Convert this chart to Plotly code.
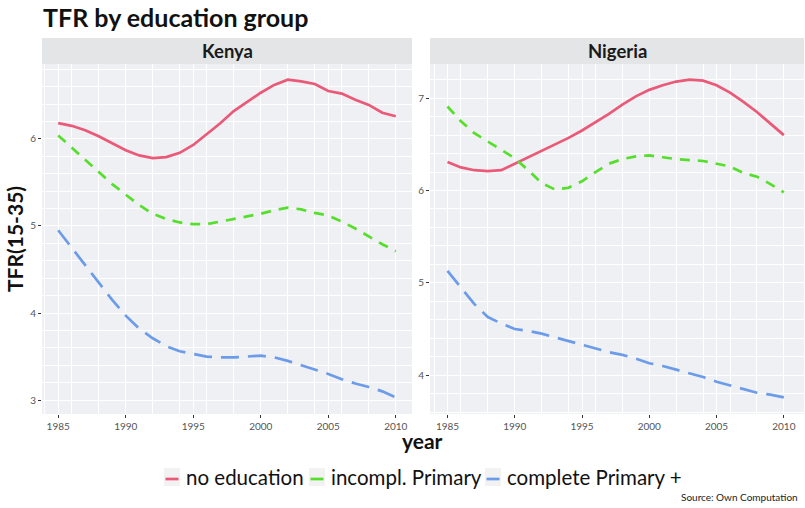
import plotly.graph_objects as go
from plotly.subplots import make_subplots

years = list(range(1985, 2011))

kenya_no_edu = [6.18, 6.15, 6.10, 6.03, 5.95, 5.87, 5.81, 5.78, 5.79, 5.84, 5.93, 6.05, 6.18,
                6.32, 6.43, 6.53, 6.62, 6.68, 6.66, 6.63, 6.55, 6.52, 6.45, 6.39, 6.30, 6.26]
kenya_incompl = [6.04, 5.90, 5.76, 5.62, 5.48, 5.36, 5.24, 5.14, 5.08, 5.04, 5.02, 5.02, 5.05,
                 5.08, 5.11, 5.14, 5.18, 5.21, 5.19, 5.15, 5.12, 5.05, 4.97, 4.88, 4.79, 4.71]
kenya_complete = [4.95, 4.75, 4.55, 4.35, 4.15, 3.97, 3.82, 3.71, 3.62, 3.56, 3.53, 3.50, 3.49,
                  3.49, 3.50, 3.51, 3.49, 3.45, 3.40, 3.35, 3.30, 3.24, 3.19, 3.15, 3.10, 3.03]

nigeria_no_edu = [6.31, 6.25, 6.22, 6.21, 6.22, 6.29, 6.36, 6.43, 6.50, 6.57, 6.65, 6.74, 6.83,
                  6.93, 7.02, 7.09, 7.14, 7.18, 7.20, 7.19, 7.14, 7.06, 6.96, 6.85, 6.73, 6.60]
nigeria_incompl = [6.91, 6.75, 6.62, 6.53, 6.44, 6.35, 6.22, 6.08, 6.01, 6.03, 6.10, 6.20, 6.29,
                   6.34, 6.37, 6.38, 6.36, 6.34, 6.33, 6.32, 6.29, 6.26, 6.19, 6.15, 6.07, 5.98]
nigeria_complete = [5.13, 4.95, 4.77, 4.63, 4.56, 4.50, 4.48, 4.45, 4.41, 4.37, 4.33, 4.29, 4.25,
                    4.22, 4.18, 4.13, 4.10, 4.06, 4.02, 3.98, 3.93, 3.89, 3.85, 3.81, 3.79, 3.76]

series_names = ["no education", "incompl. Primary", "complete Primary +"]
panels = ["Kenya", "Nigeria"]
x_ticks = [1985, 1990, 1995, 2000, 2005, 2010]
kenya_y_ticks = [3, 4, 5, 6]
nigeria_y_ticks = [4, 5, 6, 7]

colors = ["#EA5A78", "#55DF2C", "#6C9CE9"]
dashes = ["solid", "10px,8px", "18px,9px"]
FONT = "Lato, 'Open Sans', sans-serif"
W, H = 805, 508

fig = make_subplots(rows=1, cols=2, horizontal_spacing=0.02)

data = [(kenya_no_edu, kenya_incompl, kenya_complete),
        (nigeria_no_edu, nigeria_incompl, nigeria_complete)]
for c, panel_data in enumerate(data, start=1):
    for i, vals in enumerate(panel_data):
        fig.add_trace(go.Scatter(
            x=years, y=vals, mode="lines", name=series_names[i],
            line=dict(color=colors[i], width=2.7, dash=dashes[i]),
            showlegend=False), row=1, col=c)

xdom1 = [42 / W, 412 / W]
xdom2 = [430 / W, 804 / W]
ydom = [1 - 414 / H, 1 - 64 / H]

axis_common = dict(showgrid=True, gridcolor="white", gridwidth=1.2,
                   minor=dict(showgrid=True, gridcolor="white", gridwidth=0.5),
                   ticks="outside", ticklen=3, tickcolor="#333333",
                   tickfont=dict(family=FONT, size=10, color="#555555"),
                   zeroline=False, showline=False)

fig.update_xaxes(**axis_common, tickvals=x_ticks, range=[1983.8, 2011.2])
fig.update_xaxes(domain=xdom1, row=1, col=1)
fig.update_xaxes(domain=xdom2, range=[1983.7, 2011.5], row=1, col=2)
fig.update_yaxes(**axis_common)
fig.update_yaxes(domain=ydom, tickvals=kenya_y_ticks, range=[2.84, 6.86], row=1, col=1)
fig.update_yaxes(domain=ydom, tickvals=nigeria_y_ticks, range=[3.58, 7.37], row=1, col=2)

# facet strips
strip_bottom = ydom[1]
strip_top = 1 - 38 / H
for dom, name in zip([xdom1, xdom2], panels):
    fig.add_shape(type="rect", xref="paper", yref="paper",
                  x0=dom[0], x1=dom[1], y0=strip_bottom, y1=strip_top,
                  fillcolor="#E3E5E6", line=dict(width=0), layer="below")
    fig.add_annotation(x=(dom[0] + dom[1]) / 2, y=(strip_bottom + strip_top) / 2,
                       xref="paper", yref="paper", xanchor="center", yanchor="middle",
                       text="<b>%s</b>" % name, showarrow=False,
                       font=dict(family=FONT, size=18.5, color="#1a1a1a"))

fig.add_annotation(x=41 / W, y=1 - 17 / H, xref="paper", yref="paper",
                   xanchor="left", yanchor="middle", showarrow=False,
                   text="<b>TFR by education group</b>",
                   font=dict(family=FONT, size=25, color="#111111"))
fig.add_annotation(x=14 / W, y=1 - 239 / H, xref="paper", yref="paper",
                   xanchor="center", yanchor="middle",
                   textangle=-90, showarrow=False, text="<b>TFR(15-35)</b>",
                   font=dict(family=FONT, size=21, color="#111111"))
fig.add_annotation(x=422 / W, y=1 - 440 / H, xref="paper", yref="paper",
                   xanchor="center", yanchor="middle",
                   showarrow=False, text="<b>year</b>",
                   font=dict(family=FONT, size=21, color="#111111"))
fig.add_annotation(x=800 / W, y=1 - 497 / H, xref="paper", yref="paper",
                   xanchor="right", yanchor="middle", showarrow=False,
                   text="Source: Own Computation",
                   font=dict(family=FONT, size=10, color="#222222"))

# legend (ggplot-style: short keys on light grey key boxes)
legend_text_x = [184, 329, 505]
legend_y = 477
for i, name in enumerate(series_names):
    kx = legend_text_x[i] - 20
    fig.add_shape(type="rect", xref="paper", yref="paper",
                  x0=kx / W, x1=(kx + 16) / W,
                  y0=1 - (legend_y + 9) / H, y1=1 - (legend_y - 9) / H,
                  fillcolor="#F2F2F2", line=dict(width=0))
    fig.add_shape(type="line", xref="paper", yref="paper",
                  x0=(kx + 1.5) / W, x1=(kx + 14.5) / W,
                  y0=1 - (legend_y + 2) / H, y1=1 - (legend_y + 2) / H,
                  line=dict(color=colors[i], width=2.7))
    fig.add_annotation(x=legend_text_x[i] / W, y=1 - legend_y / H, xref="paper", yref="paper",
                       xanchor="left", yanchor="middle", showarrow=False, text=name,
                       font=dict(family=FONT, size=20.5, color="#111111"))

fig.update_layout(
    width=W, height=H,
    margin=dict(l=0, r=0, t=0, b=0),
    paper_bgcolor="white", plot_bgcolor="#EEF0F3",
    showlegend=False,
)

fig.write_html("out.html", config={"displayModeBar": False},
               post_script="document.body.style.margin='0px';")
